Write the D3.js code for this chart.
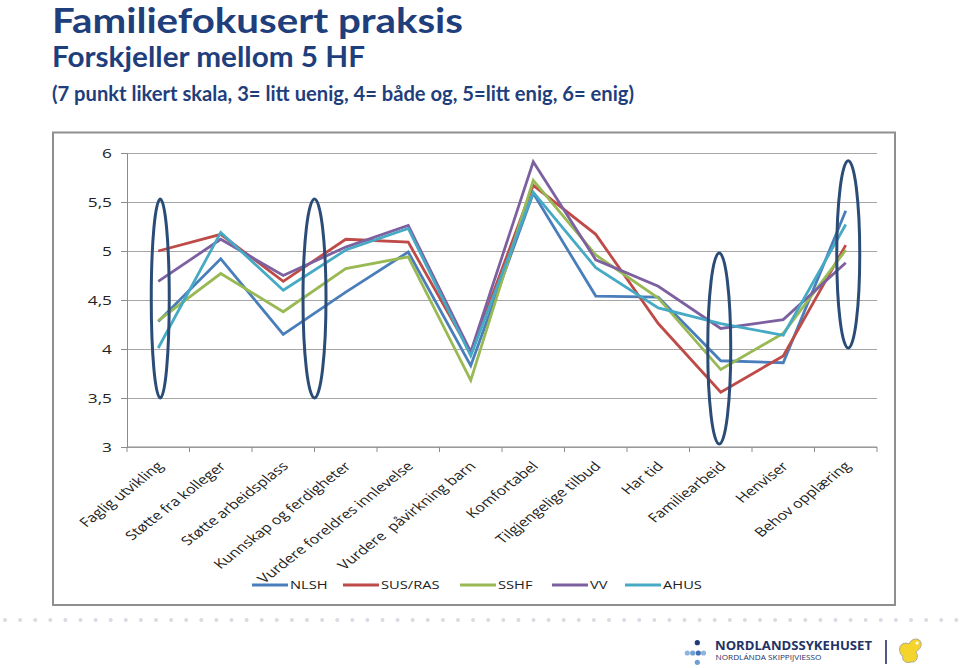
<!DOCTYPE html>
<html><head><meta charset="utf-8">
<script src="https://cdn.jsdelivr.net/npm/d3@7"></script>
<style>body{margin:0;background:#fff;} svg{display:block;} text{white-space:pre;}</style>
</head><body>
<svg id="chart" width="960" height="668"></svg>
<script>
// ---------- data ----------
const categories = ["Faglig utvikling","Støtte fra kolleger","Støtte arbeidsplass","Kunnskap og ferdigheter","Vurdere foreldres innlevelse","Vurdere  påvirkning barn","Komfortabel","Tilgjengelige tilbud","Har tid","Familiearbeid","Henviser","Behov opplæring"];
const seriesNames = ["NLSH","SUS/RAS","SSHF","VV","AHUS"];
const NLSH   = [4.28, 4.92, 4.15, 4.58, 4.99, 3.83, 5.59, 4.54, 4.53, 3.88, 3.86, 5.41];
const SUSRAS = [5.00, 5.17, 4.69, 5.12, 5.09, 3.96, 5.67, 5.17, 4.26, 3.56, 3.93, 5.06];
const SSHF   = [4.29, 4.77, 4.38, 4.82, 4.94, 3.68, 5.72, 4.96, 4.52, 3.79, 4.16, 5.01];
const VV     = [4.69, 5.12, 4.75, 5.04, 5.26, 3.97, 5.91, 4.91, 4.64, 4.21, 4.30, 4.88];
const AHUS   = [4.01, 5.19, 4.60, 5.01, 5.23, 3.93, 5.60, 4.83, 4.42, 4.26, 4.14, 5.27];
const yTicks = [3, 3.5, 4, 4.5, 5, 5.5, 6];
const yTickLabels = ["3","3,5","4","4,5","5","5,5","6"];
// highlight ellipses: category position (index), value range
const ellipseAt  = [0, 2.5, 9, 11];
const ellipseLow = [3.5, 3.5, 3.03, 4.01];
const ellipseHigh= [5.53, 5.53, 4.98, 5.92];
const titleText = "Familiefokusert praksis";
const subtitleText = "Forskjeller mellom 5 HF";
const noteText = "(7 punkt likert skala, 3= litt uenig, 4= både og, 5=litt enig, 6= enig)";

// ---------- styles ----------
const colors = ["#4a7ebb","#be4b48","#98b954","#7d60a0","#46aac5"];
const seriesValues = [NLSH, SUSRAS, SSHF, VV, AHUS];
const navy = "#1f3e7c";
const STRETCH = 1.28;

const svg = d3.select("#chart");

// titles
svg.append("text").attr("x",52).attr("y",33).text(titleText)
  .attr("font-family","Lato, 'Open Sans', sans-serif").attr("font-weight",700)
  .attr("font-size",33.5).attr("fill",navy)
  .attr("textLength",411).attr("lengthAdjust","spacingAndGlyphs");
svg.append("text").attr("x",52).attr("y",67).text(subtitleText)
  .attr("font-family","Lato, 'Open Sans', sans-serif").attr("font-weight",700)
  .attr("font-size",28).attr("fill",navy)
  .attr("textLength",313).attr("lengthAdjust","spacingAndGlyphs");
svg.append("text").attr("x",52).attr("y",101).text(noteText)
  .attr("font-family","Lato, 'Open Sans', sans-serif").attr("font-weight",700)
  .attr("font-size",21).attr("fill",navy)
  .attr("textLength",582).attr("lengthAdjust","spacingAndGlyphs");

// chart frame
svg.append("rect").attr("x",53).attr("y",132.5).attr("width",842).attr("height",472.5)
  .attr("fill","#fff").attr("stroke","#8f8f8f").attr("stroke-width",2);

// scales
const x = d3.scaleBand().domain(categories).range([127,877]).padding(0);
const cx = d => x(d) + x.bandwidth()/2;
const y = d3.scaleLinear().domain([3,6]).range([447,153]);
const xi = d3.scaleLinear().domain([0, categories.length-1]).range([cx(categories[0]), cx(categories[categories.length-1])]);

// gridlines
const grid = svg.append("g").attr("transform","translate(127,0)")
  .call(d3.axisLeft(y).tickValues(yTicks).tickSize(-750).tickFormat(""));
grid.select(".domain").remove();
grid.selectAll("line").attr("stroke","#a6a6a6").attr("stroke-width",1);

// y axis
const yAxis = svg.append("g").attr("transform","translate(127,0)")
  .call(d3.axisLeft(y).tickValues(yTicks).tickSize(6).tickPadding(0).tickFormat(""));
yAxis.select(".domain").attr("stroke","#8c8c8c");
yAxis.selectAll("line").attr("stroke","#8c8c8c");
svg.append("g").selectAll("text").data(yTicks).join("text")
  .attr("transform", d => `translate(112,${y(d)}) scale(${STRETCH},1)`)
  .attr("text-anchor","end").attr("dy","0.35em")
  .attr("font-family","'Open Sans', sans-serif").attr("font-size",13.5).attr("fill","#222")
  .text((d,i) => yTickLabels[i]);

// x axis
const xAxis = svg.append("g").attr("transform","translate(0,447)");
xAxis.append("line").attr("x1",127).attr("x2",877).attr("stroke","#8c8c8c");
const bounds = categories.map(c => x(c)).concat([x.range()[1]]);
xAxis.selectAll("line.tk").data(bounds).join("line").attr("class","tk")
  .attr("x1",d=>d).attr("x2",d=>d).attr("y1",0).attr("y2",5).attr("stroke","#8c8c8c");
svg.append("g").selectAll("text").data(categories).join("text")
  .attr("transform", d => `translate(${cx(d)+6},467) scale(${STRETCH},1) rotate(-45)`)
  .attr("text-anchor","end")
  .attr("font-family","'Open Sans', sans-serif").attr("font-size",12.6).attr("fill","#222")
  .text(d => d);

// lines
const line = d3.line().x((d,i) => cx(categories[i])).y(d => y(d));
svg.append("g").selectAll("path").data(seriesValues).join("path")
  .attr("d", d => line(d)).attr("fill","none")
  .attr("stroke",(d,i)=>colors[i]).attr("stroke-width",2.8)
  .attr("stroke-linejoin","miter");

// ellipses
svg.append("g").selectAll("ellipse").data(ellipseAt).join("ellipse")
  .attr("cx",(d,i)=> xi(d) + (i===0?2:(i===2?-1.5:(i===3?2.5:0))))
  .attr("cy",(d,i)=> (y(ellipseLow[i])+y(ellipseHigh[i]))/2)
  .attr("rx",(d,i)=> i===0?9:11.5)
  .attr("ry",(d,i)=> (y(ellipseLow[i])-y(ellipseHigh[i]))/2)
  .attr("fill","none").attr("stroke","#2b4c77").attr("stroke-width",3);

// legend
const legendX = [252, 343, 460, 552, 625];
const lg = svg.append("g").selectAll("g").data(seriesNames).join("g")
  .attr("transform",(d,i)=>`translate(${legendX[i]},585)`);
lg.append("line").attr("x1",0).attr("x2",36).attr("stroke",(d,i)=>colors[i]).attr("stroke-width",2.8);
lg.append("text").attr("transform",`translate(38,0) scale(${STRETCH},1)`).attr("dy","0.35em")
  .attr("font-family","'Open Sans', sans-serif").attr("font-size",11.5).attr("fill","#222")
  .text(d=>d);

// footer dotted line
svg.append("g").selectAll("circle").data(d3.range(0,64)).join("circle")
  .attr("cx",d=>5+d*15.1).attr("cy",620).attr("r",2).attr("fill","#d8dbe2");

// logo
const logo = svg.append("g");
const logoDots = [[697.3,642.7,"#1f3a78"],[687.3,653,"#8fb4de"],[692.7,653,"#6f9fd4"],[698.3,653,"#3f6fb5"],[703.5,653,"#8fb4de"],[697.3,662.3,"#6f9fd4"]];
logo.selectAll("circle").data(logoDots).join("circle")
  .attr("cx",d=>d[0]).attr("cy",d=>d[1]).attr("r",2.6).attr("fill",d=>d[2]);
logo.append("text").attr("x",715).attr("y",650).text("NORDLANDSSYKEHUSET")
  .attr("font-family","'Open Sans', sans-serif").attr("font-weight",700).attr("font-size",12)
  .attr("fill","#1f3366").attr("textLength",157).attr("lengthAdjust","spacingAndGlyphs");
logo.append("text").attr("x",715.5).attr("y",660).text("NORDLÁNDA SKIPPIJVIESSO")
  .attr("font-family","'Open Sans', sans-serif").attr("font-size",6.8).attr("fill","#1f3366")
  .attr("textLength",106).attr("lengthAdjust","spacingAndGlyphs");
logo.append("line").attr("x1",886).attr("x2",886).attr("y1",640).attr("y2",664)
  .attr("stroke","#1f3366").attr("stroke-width",1.6);
logo.append("path")
  .attr("d","M900,652 C898,646 903,641 909,644 C911,638 920,637 921,643 C922,648 918,650 916,652 C919,656 917,663 911,662 C906,664 901,660 903,656 C901,655 900,654 900,652 Z")
  .attr("fill","#f5d52c").attr("stroke","#9a9a9a").attr("stroke-width",0.8);
logo.append("circle").attr("cx",917).attr("cy",643).attr("r",1.5).attr("fill","#fff");
</script>
</body></html>
